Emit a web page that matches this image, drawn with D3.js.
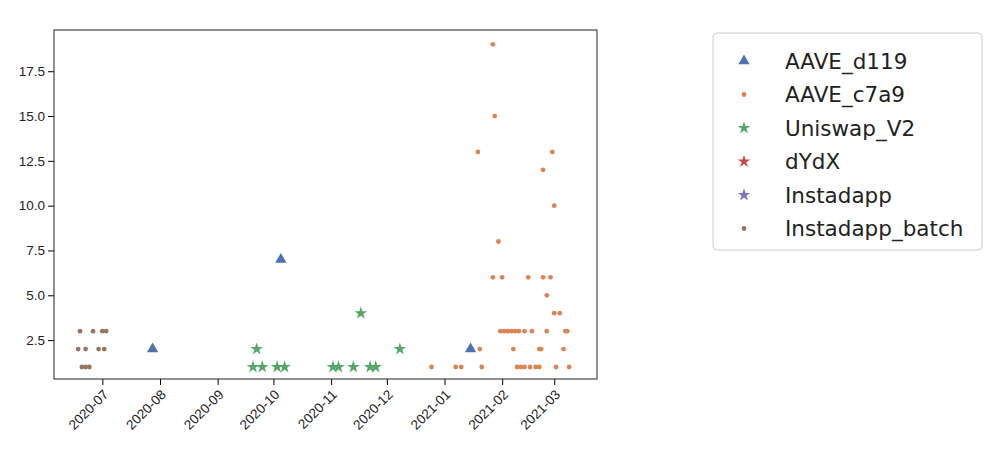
<!DOCTYPE html>
<html><head><meta charset="utf-8">
<script src="https://cdn.jsdelivr.net/npm/d3@7"></script>
<style>body{margin:0;background:#fff;font-family:"DejaVu Sans",sans-serif}</style>
</head><body><div id="wrapper"></div>
<script>
const seriesNames = ["AAVE_d119", "AAVE_c7a9", "Uniswap_V2", "dYdX", "Instadapp", "Instadapp_batch"];
const seriesColors = ["#4c72b0", "#dd8452", "#55a868", "#c44e52", "#8172b3", "#937860"];
const seriesSymbols = ["triangle", "circle", "star", "star", "star", "circle"];

const aaveD119 = [["2020-07-28", 2], ["2020-10-05", 7], ["2021-01-15", 2]];
const aaveC7a9 = [
  ["2020-12-25", 1], ["2021-01-07", 1], ["2021-01-10", 1], ["2021-01-21", 1],
  ["2021-02-09", 1], ["2021-02-11", 1], ["2021-02-13", 1], ["2021-02-16", 1],
  ["2021-02-19", 1], ["2021-02-21", 1], ["2021-03-02", 1], ["2021-03-09", 1],
  ["2021-01-20", 2], ["2021-02-07", 2], ["2021-02-21", 2], ["2021-02-22", 2], ["2021-03-06", 2],
  ["2021-01-31", 3], ["2021-02-02", 3], ["2021-02-04", 3], ["2021-02-06", 3],
  ["2021-02-08", 3], ["2021-02-10", 3], ["2021-02-13", 3], ["2021-02-17", 3],
  ["2021-02-25", 3], ["2021-03-07", 3], ["2021-03-08", 3],
  ["2021-03-01", 4], ["2021-03-04", 4], ["2021-02-25", 5],
  ["2021-01-27", 6], ["2021-02-01", 6], ["2021-02-15", 6], ["2021-02-23", 6], ["2021-02-27", 6],
  ["2021-01-30", 8], ["2021-03-01", 10], ["2021-02-23", 12],
  ["2021-01-19", 13], ["2021-02-28", 13], ["2021-01-28", 15], ["2021-01-27", 19]
];
const uniswapV2 = [
  ["2020-09-22", 2], ["2020-09-20", 1], ["2020-09-25", 1], ["2020-10-03", 1], ["2020-10-07", 1],
  ["2020-11-02", 1], ["2020-11-05", 1], ["2020-11-13", 1], ["2020-11-22", 1], ["2020-11-25", 1],
  ["2020-11-17", 4], ["2020-12-08", 2]
];
const dydx = [];
const instadapp = [];
const instadappBatch = [
  ["2020-06-19", 3], ["2020-06-26", 3], ["2020-07-01", 3], ["2020-07-03", 3],
  ["2020-06-18", 2], ["2020-06-22", 2], ["2020-06-29", 2], ["2020-07-02", 2],
  ["2020-06-20", 1], ["2020-06-22", 1], ["2020-06-24", 1]
];
const allSeries = [aaveD119, aaveC7a9, uniswapV2, dydx, instadapp, instadappBatch];
const yTicks = [2.5, 5, 7.5, 10, 12.5, 15, 17.5];

const width = 1000, height = 476;
const margins = { top: 30, left: 54, right: 403, bottom: 97 };
const parse = d3.timeParse("%Y-%m-%d");

const svg = d3.select("#wrapper").append("svg").attr("width", width).attr("height", height);

const xScale = d3.scaleTime()
  .domain([parse("2020-06-05"), parse("2021-03-24")])
  .range([margins.left, width - margins.right]);
const yScale = d3.scaleLinear()
  .domain([0.33, 19.8])
  .range([height - margins.bottom, margins.top]);

const symbolType = { triangle: d3.symbolTriangle, circle: d3.symbolCircle, star: d3.symbolStar };
const symbolSize = { triangle: 55, circle: 18, star: 50 };

allSeries.forEach((data, i) => {
  const sym = d3.symbol().type(symbolType[seriesSymbols[i]]).size(symbolSize[seriesSymbols[i]]);
  svg.append("g").selectAll("path").data(data).enter().append("path")
    .attr("d", sym)
    .attr("transform", d => `translate(${xScale(parse(d[0]))},${yScale(d[1])})`)
    .attr("fill", seriesColors[i]);
});

const yAxis = svg.append("g").attr("transform", `translate(${margins.left},0)`)
  .call(d3.axisLeft(yScale).tickValues(yTicks).tickFormat(d3.format(".1f")).tickSizeOuter(0));
const xAxis = svg.append("g").attr("transform", `translate(0,${height - margins.bottom})`)
  .call(d3.axisBottom(xScale).ticks(d3.timeMonth.every(1)).tickFormat(d3.timeFormat("%Y-%m")).tickSizeOuter(0));
[xAxis, yAxis].forEach(a => {
  a.selectAll("text").style("font-size", "13.5px").attr("fill", "#222");
  a.select(".domain").remove();
});
xAxis.selectAll("text")
  .attr("text-anchor", "end").attr("x", 0).attr("y", 0).attr("dy", "0.35em")
  .attr("transform", "translate(3,13) rotate(-45)");

svg.append("rect")
  .attr("x", margins.left).attr("y", margins.top)
  .attr("width", width - margins.left - margins.right)
  .attr("height", height - margins.top - margins.bottom)
  .attr("fill", "none").attr("stroke", "#222").attr("stroke-width", 1);

// Legend
const legend = svg.append("g");
legend.append("rect").attr("x", 713).attr("y", 33).attr("width", 269).attr("height", 217)
  .attr("rx", 4).attr("fill", "#fff").attr("stroke", "#ccc");
seriesNames.forEach((name, i) => {
  const y = 61 + i * 33.5;
  const sym = d3.symbol().type(symbolType[seriesSymbols[i]]).size(symbolSize[seriesSymbols[i]]);
  legend.append("path").attr("d", sym).attr("transform", `translate(744,${y})`).attr("fill", seriesColors[i]);
  legend.append("text").attr("x", 785).attr("y", y).attr("dy", "0.35em")
    .style("font-size", "21.5px").attr("fill", "#222").text(name);
});
</script></body></html>
